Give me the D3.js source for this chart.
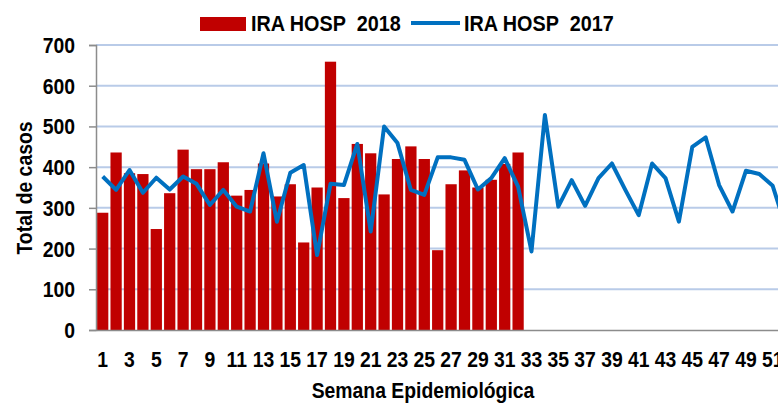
<!DOCTYPE html>
<html><head><meta charset="utf-8">
<script src="https://cdn.jsdelivr.net/npm/d3@7"></script>
<style>
html,body{margin:0;padding:0;background:#fff;overflow:hidden;}
text{font-family:"Liberation Sans",Arial,sans-serif;font-weight:bold;fill:#000;}
</style></head>
<body><svg id="c" width="778" height="411"></svg>
<script>
const weeks = d3.range(1, 53);
const tickLabels = d3.range(1, 53, 2);
const yTicks = [0, 100, 200, 300, 400, 500, 600, 700];
const hosp2018 = [288,436,385,383,248,336,443,395,395,412,330,344,409,328,358,215,350,659,324,457,434,333,420,451,420,196,358,392,350,369,408,436];
const hosp2017 = [377,344,393,337,374,345,377,359,307,344,303,291,434,266,386,405,184,359,356,457,242,500,459,344,332,424,424,418,345,373,422,352,193,528,303,368,305,373,409,344,282,409,373,266,450,473,356,291,391,383,354,250];

(function () {
const svg = d3.select("#c");
const mLeft = 96, mTop = 45, mBottom = 330, step = 13.4, sx = 0.88, fs = "22px";
const x = d3.scaleBand().domain(weeks).range([mLeft, mLeft + step * weeks.length]).paddingInner(0.16).paddingOuter(0.08);
const y = d3.scaleLinear().domain([0, 700]).range([mBottom, mTop]);

// gridlines
svg.append("g").selectAll("line").data(yTicks.filter(d => d > 0)).join("line")
  .attr("x1", mLeft).attr("x2", 800).attr("y1", d => y(d)).attr("y2", d => y(d))
  .attr("stroke", "#b9cbe8").attr("stroke-width", 2);

// bars
svg.append("g").selectAll("rect").data(hosp2018).join("rect")
  .attr("x", (d, i) => x(weeks[i])).attr("width", x.bandwidth())
  .attr("y", d => y(d)).attr("height", d => y(0) - y(d))
  .attr("fill", "#c00000");

// line
const line = d3.line().x((d, i) => x(weeks[i]) + x.bandwidth() / 2).y(d => y(d));
svg.append("path").datum(hosp2017).attr("d", line)
  .attr("fill", "none").attr("stroke", "#0070c0").attr("stroke-width", 4).attr("stroke-linejoin", "round");

// y axis
const yAxis = d3.axisLeft(y).tickValues(yTicks).tickSize(7);
const gy = svg.append("g").attr("transform", `translate(${mLeft},0)`).call(yAxis);
gy.select(".domain").attr("stroke", "#8c8c8c").attr("stroke-width", 1.5);
gy.selectAll(".tick line").attr("stroke", "#8c8c8c").attr("stroke-width", 1.5);
gy.selectAll("text").style("font-size", fs).attr("fill", "#000")
  .attr("x", -21 / sx).attr("dy", "0.34em").attr("transform", `scale(${sx},1)`);

// x axis
const xAxis = d3.axisBottom(x).tickValues(tickLabels).tickSize(0).tickPadding(21);
const gx = svg.append("g").attr("transform", `translate(0,${mBottom})`).call(xAxis);
gx.select(".domain").attr("stroke", "#8c8c8c").attr("stroke-width", 1.5);
gx.selectAll("text").style("font-size", fs).attr("fill", "#000").attr("transform", `scale(${sx},1)`);

// axis titles
svg.append("text").attr("transform", `translate(32,188) rotate(-90) scale(${sx},1)`).attr("text-anchor", "middle")
  .style("font-size", fs).text("Total de casos");
svg.append("text").attr("transform", `translate(423,398) scale(${sx},1)`).attr("text-anchor", "middle")
  .style("font-size", fs).text("Semana Epidemiológica");

// legend
const lg = svg.append("g");
lg.append("rect").attr("x", 200).attr("y", 17).attr("width", 46).attr("height", 14).attr("fill", "#c00000");
lg.append("text").attr("transform", `translate(251,31) scale(0.9,1)`).style("font-size", fs).text("IRA HOSP\u00a0 2018");
lg.append("line").attr("x1", 411).attr("x2", 460).attr("y1", 23).attr("y2", 23).attr("stroke", "#0070c0").attr("stroke-width", 4);
lg.append("text").attr("transform", `translate(464,31) scale(0.9,1)`).style("font-size", fs).text("IRA HOSP\u00a0 2017");
})();
</script></body></html>
